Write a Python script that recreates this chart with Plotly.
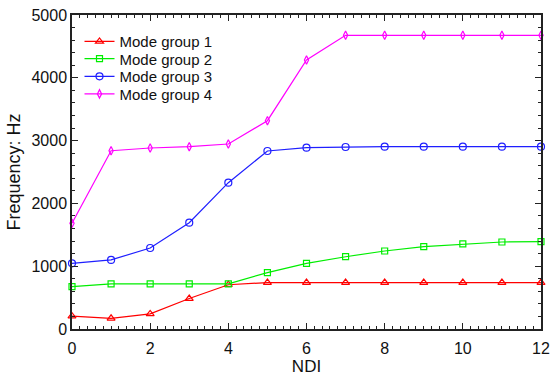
import plotly.graph_objects as go

# NDI values and natural frequencies (Hz) of the four mode groups
ndi = [0, 1, 2, 3, 4, 5, 6, 7, 8, 9, 10, 11, 12]
group1 = [205, 170, 240, 485, 705, 740, 740, 740, 740, 740, 740, 740, 740]
group2 = [675, 718, 718, 718, 720, 897, 1046, 1151, 1242, 1311, 1354, 1385, 1392]
group3 = [1046, 1100, 1290, 1693, 2330, 2834, 2887, 2898, 2903, 2903, 2903, 2903, 2903]
group4 = [1683, 2839, 2882, 2903, 2946, 3317, 4283, 4677, 4677, 4677, 4677, 4677, 4677]

names = ["Mode group 1", "Mode group 2", "Mode group 3", "Mode group 4"]
colors = ["#ff0000", "#00ee00", "#1f1fff", "#ff00ff"]
symbols = ["triangle-up-open", "square-open", "circle-open", "diamond-tall-open"]
sizes = [7, 6, 7, 6]
legend_ids = ["legend", "legend2", "legend3", "legend4"]
legend_y = [0.915, 0.860, 0.804, 0.748]

FONT = "Liberation Sans, Arial"

fig = go.Figure()
for ys, name, c, s, sz, lg in zip([group1, group2, group3, group4], names, colors, symbols, sizes, legend_ids):
    fig.add_trace(go.Scatter(
        x=ndi, y=ys, name=name, mode="lines+markers", legend=lg,
        line=dict(color=c, width=1.2),
        marker=dict(symbol=s, size=sz, color=c, line=dict(color=c, width=1.2)),
        cliponaxis=False,
    ))

axis_common = dict(
    showgrid=False, zeroline=False, showline=True, linecolor="#222222", linewidth=1.5,
    mirror="allticks", ticks="inside", ticklen=6, tickwidth=1.2, tickcolor="#222222",
    tickfont=dict(family=FONT, size=16, color="#111111"), automargin=False,
)

fig.update_xaxes(
    range=[0, 12], tickmode="linear", tick0=0, dtick=2, ticklabelstandoff=4,
    minor=dict(dtick=0.2, ticks="inside", ticklen=3, tickwidth=1, tickcolor="#222222"),
    title=dict(text="NDI", font=dict(family=FONT, size=17, color="#111111"), standoff=7),
    **axis_common,
)
fig.update_yaxes(
    range=[0, 5000], tickmode="linear", tick0=0, dtick=1000,
    minor=dict(dtick=200, ticks="inside", ticklen=3, tickwidth=1, tickcolor="#222222"),
    title=dict(text="Frequency: Hz", font=dict(family=FONT, size=18, color="#111111"), standoff=6),
    **axis_common,
)

legend_style = dict(
    xanchor="left", yanchor="middle", x=0.016,
    bgcolor="rgba(0,0,0,0)", borderwidth=0,
    font=dict(family=FONT, size=15, color="#111111"), itemwidth=30,
)
layout_legends = {lg: dict(y=ly, **legend_style) for lg, ly in zip(legend_ids, legend_y)}

fig.update_layout(
    width=551, height=376,
    margin=dict(l=72, r=10, t=15, b=47),
    plot_bgcolor="white", paper_bgcolor="white",
    showlegend=True,
    **layout_legends,
)

fig.write_html("out.html")
